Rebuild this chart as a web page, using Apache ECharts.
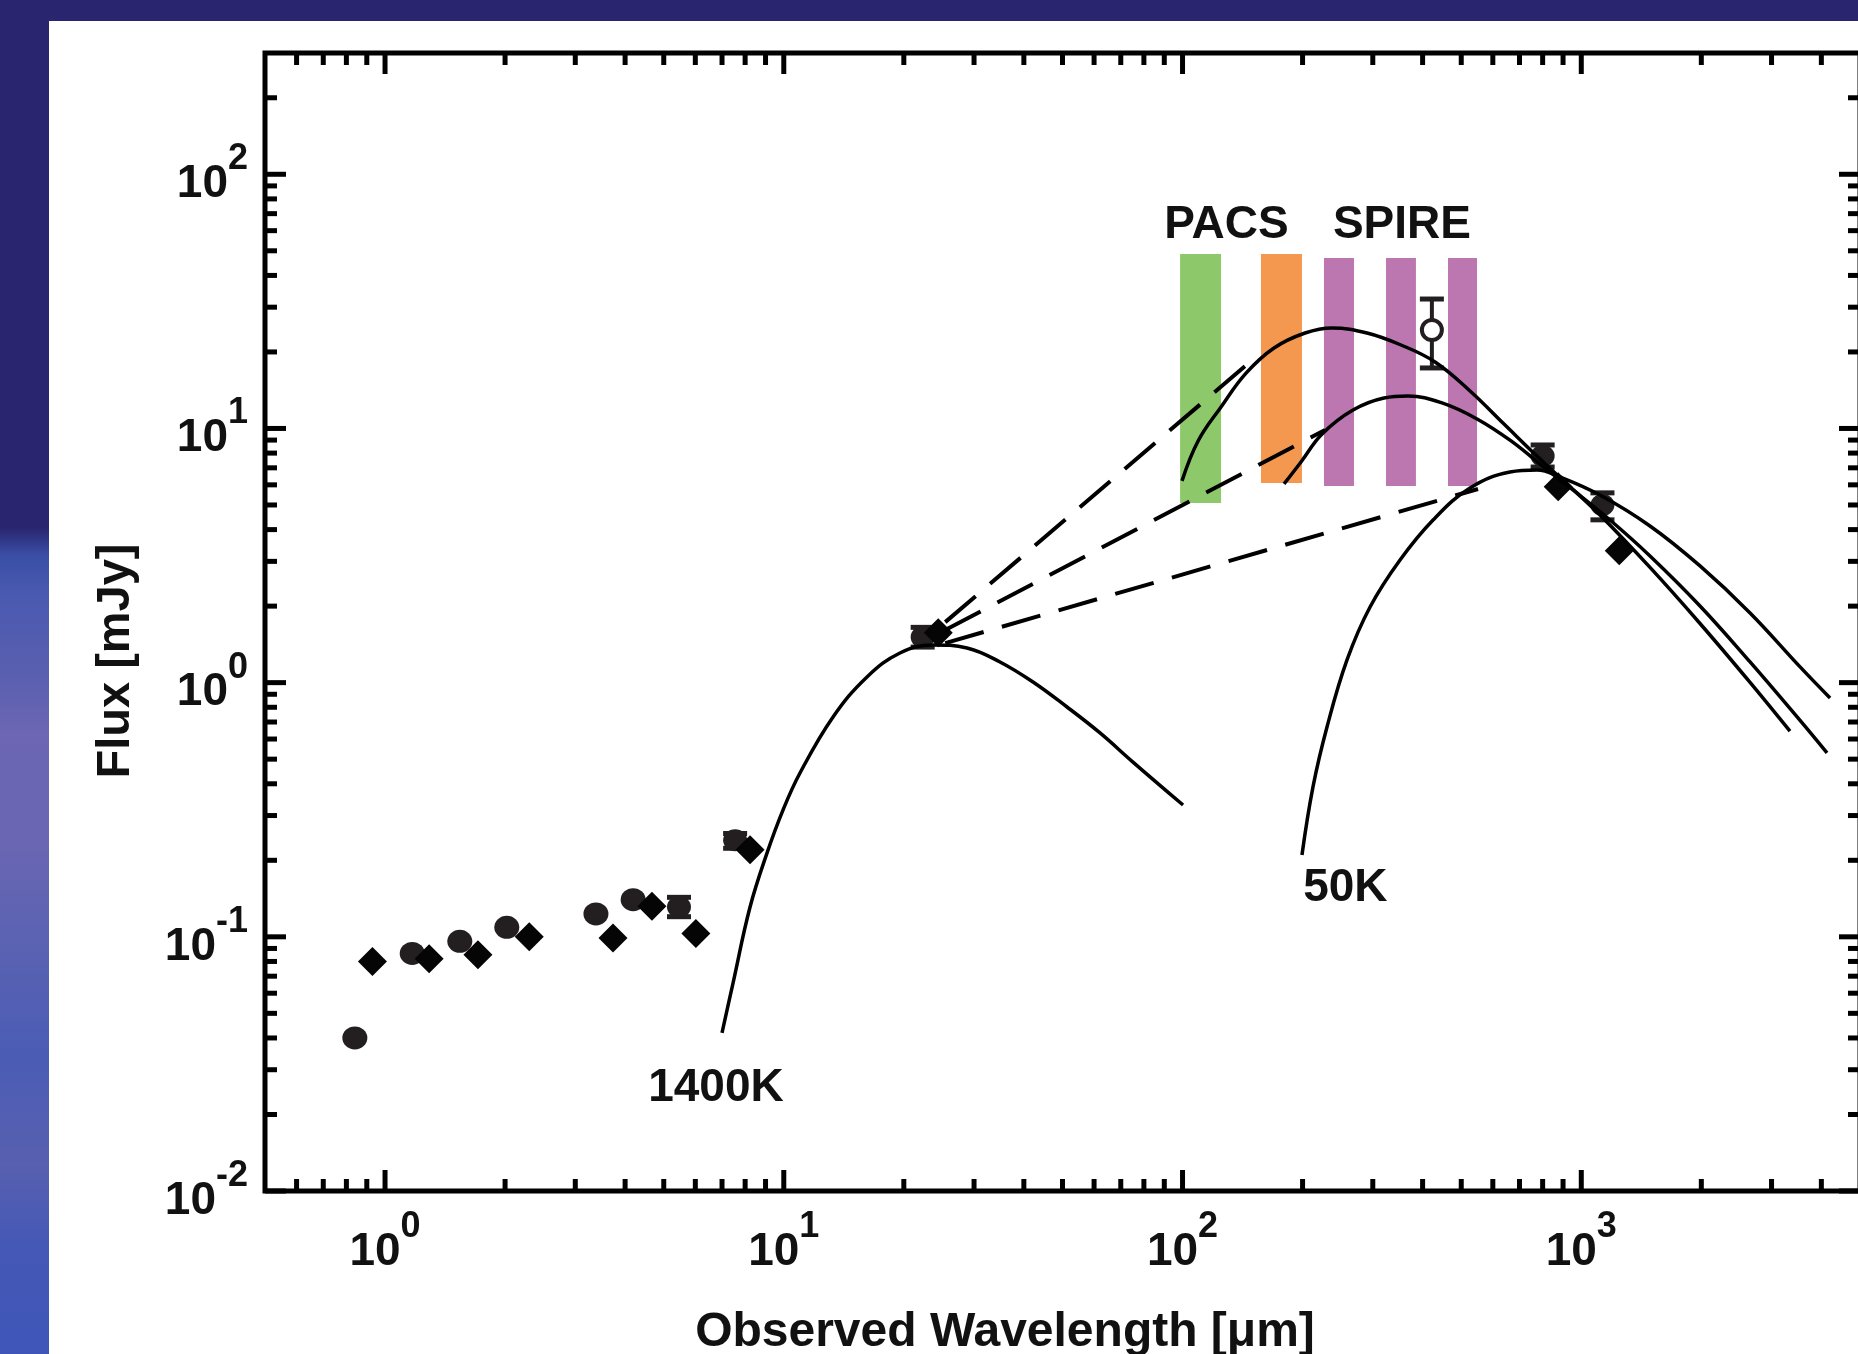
<!DOCTYPE html>
<html>
<head>
<meta charset="utf-8">
<script src="https://cdn.jsdelivr.net/npm/echarts@6/dist/echarts.min.js"></script>
<style>
html, body { margin: 0; padding: 0; width: 1858px; height: 1354px; overflow: hidden; background: #29266f; }
#strip { position: absolute; left: 0; top: 0; width: 49px; height: 1354px;
  background: linear-gradient(to bottom, #29266f 0%, #29266f 39%, #3a4ea6 41%, #4a5ab0 44%, #5a5fb0 50%, #6c66b4 54%, #6a66b3 62%, #5a62b2 70%, #4b5cb5 78%, #5860b0 86%, #4558b6 92%, #3f56b8 100%); }
#panel { position: absolute; left: 49px; top: 21px; width: 1809px; height: 1333px; background: #ffffff; }
#chart { position: absolute; left: 0; top: 0; width: 1858px; height: 1354px; }
</style>
</head>
<body>
<div id="strip"></div>
<div id="panel"></div>
<div id="chart"></div>
<script>
// ---------------- data ----------------
const xMajorTicks = [1, 10, 100, 1000];
const xMinorTicks = [0.6, 0.7, 0.8, 0.9, 2, 3, 4, 5, 6, 7, 8, 9, 20, 30, 40, 50, 60, 70, 80, 90,
  200, 300, 400, 500, 600, 700, 800, 900, 2000, 3000, 4000];
const yMajorTicks = [0.01, 0.1, 1, 10, 100];
const yMinorTicks = [0.02, 0.03, 0.04, 0.05, 0.06, 0.07, 0.08, 0.09, 0.2, 0.3, 0.4, 0.5, 0.6, 0.7, 0.8, 0.9,
  2, 3, 4, 5, 6, 7, 8, 9, 20, 30, 40, 50, 60, 70, 80, 90, 200];

// photometry: filled circles
const circlePoints = [[0.84, 0.040], [1.17, 0.086], [1.54, 0.096], [2.02, 0.109], [3.38, 0.123], [4.19, 0.140]];
// photometry: diamonds
const diamondPoints = [[0.93, 0.080], [1.29, 0.082], [1.71, 0.085], [2.30, 0.100], [3.73, 0.099], [4.67, 0.132],
  [6.02, 0.103], [8.23, 0.22], [24.4, 1.57], [875, 5.9], [1245, 3.3]];
// points with error bars: [wavelength, flux, low, high]
const errorPoints = [[5.46, 0.131, 0.120, 0.143], [7.55, 0.24, 0.223, 0.255], [22.3, 1.51, 1.38, 1.65],
  [800, 7.79, 7.05, 8.61], [1130, 5.0, 4.37, 5.58]];
// open circle with error bar
const openPoint = [[422, 24.4, 17.3, 32.3]];

// model curves
const curve1400K = [[7.00, 0.0419], [7.46, 0.0658], [8.23, 0.131], [9.08, 0.214], [9.96, 0.316], [10.98, 0.441],
  [13.29, 0.733], [16.17, 1.053], [19.56, 1.308], [23.67, 1.407], [28.81, 1.369], [34.85, 1.206], [42.17, 1.006],
  [51.32, 0.802], [62.09, 0.634], [75.1, 0.487], [100.3, 0.330]];
const curve50K = [[199.3, 0.210], [212.4, 0.389], [230.3, 0.669], [258.5, 1.228], [295.3, 1.985], [351.1, 3.038],
  [424.9, 4.365], [526.0, 5.834], [662.6, 6.743], [774.5, 6.867], [884.5, 6.445], [1114, 5.473], [1487, 4.134],
  [1985, 2.878], [2650, 1.880], [3537, 1.153], [4206, 0.870]];
const curveHotA = [[99.7, 6.22], [109.4, 8.93], [124.9, 12.15], [144.3, 16.5], [169.6, 20.73], [202.9, 23.74],
  [237.1, 24.85], [290.2, 23.74], [353.1, 21.30], [429.8, 18.26], [526.0, 14.04], [640.0, 10.41], [783.4, 7.65],
  [915.6, 6.10], [1114, 4.566], [1487, 2.840], [1985, 1.709], [2650, 1.002], [3337, 0.644]];
const curveHotB = [[179.7, 6.05], [198.2, 7.38], [223.8, 9.51], [267.6, 11.82], [320.1, 13.18], [367.7, 13.42],
  [447.4, 12.60], [547.7, 10.90], [666.5, 8.93], [815.6, 6.93], [953.4, 5.728], [1180, 4.365], [1487, 3.151],
  [1985, 2.003], [2650, 1.206], [3537, 0.710], [4133, 0.529]];
const dashUpper = [[25.4, 1.73], [147.6, 18.26]];
const dashMiddle = [[25.4, 1.61], [227.7, 9.86]];
const dashLower = [[25.4, 1.43], [550.8, 5.78]];

// PACS / SPIRE bands
const bandLow = [98.6, 157.3, 226.3, 323.8, 463.2];
const bandHigh = [124.9, 199.3, 269.2, 384.9, 547.7];
const bandBottom = [5.09, 6.10, 5.94, 5.94, 5.94];
const bandTop = [48.6, 48.6, 46.8, 46.8, 46.8];

// annotations
const annotations = [
  { name: '1400K', value: [6.76, 0.0254] },
  { name: '50K', value: [256, 0.155] },
  { name: 'PACS', value: [128.9, 62.9] },
  { name: 'SPIRE', value: [355, 62.9] }
];

// ---------------- styles ----------------
const INK = '#111111';
const FONT = "'Liberation Sans', Arial, Helvetica, sans-serif";
const NARROW = "'Liberation Sans Narrow', 'Arial Narrow', 'Liberation Sans', sans-serif";
const bandColors = ['rgba(103,182,56,0.75)', 'rgba(240,117,20,0.75)', 'rgba(166,74,151,0.75)',
  'rgba(166,74,151,0.75)', 'rgba(166,74,151,0.75)'];
const MAJOR_LEN = 21, MINOR_LEN = 12, TICK_W = 5;

const XMIN = 0.5, XMAX = 5000, YMIN = 0.01, YMAX = 300;

function isPow10(v) { const l = Math.log10(v); return Math.abs(l - Math.round(l)) < 1e-6; }
function powLabel(v) {
  if (!isPow10(v)) return '';
  const e = Math.round(Math.log10(v));
  return '{m|10}{s|' + e + '}';
}
const richLabel = {
  m: { fontSize: 46, fontWeight: 'bold', fontFamily: NARROW, color: INK, lineHeight: 66, verticalAlign: 'bottom' },
  s: { fontSize: 36, fontWeight: 'bold', fontFamily: NARROW, color: INK, lineHeight: 36, verticalAlign: 'top' }
};

const xTickData = xMajorTicks.map(v => [v, YMIN, 1]).concat(xMinorTicks.map(v => [v, YMIN, 0]));
const yTickData = yMajorTicks.map(v => [XMIN, v, 1]).concat(yMinorTicks.map(v => [XMIN, v, 0]));

function tickStyle() { return { stroke: '#000', lineWidth: TICK_W }; }

function renderXTick(params, api) {
  const cs = params.coordSys;
  const p = api.coord([api.value(0), api.value(1)]);
  const len = api.value(2) ? MAJOR_LEN : MINOR_LEN;
  const top = cs.y, bottom = cs.y + cs.height;
  return { type: 'group', children: [
    { type: 'line', shape: { x1: p[0], y1: bottom, x2: p[0], y2: bottom - len }, style: tickStyle() },
    { type: 'line', shape: { x1: p[0], y1: top, x2: p[0], y2: top + len }, style: tickStyle() }
  ] };
}
function renderYTick(params, api) {
  const cs = params.coordSys;
  const p = api.coord([api.value(0), api.value(1)]);
  const len = api.value(2) ? MAJOR_LEN : MINOR_LEN;
  const left = cs.x, right = cs.x + cs.width;
  return { type: 'group', children: [
    { type: 'line', shape: { x1: left, y1: p[1], x2: left + len, y2: p[1] }, style: tickStyle() },
    { type: 'line', shape: { x1: right, y1: p[1], x2: right - len, y2: p[1] }, style: tickStyle() }
  ] };
}
function renderBand(params, api) {
  const p0 = api.coord([api.value(0), api.value(3)]);
  const p1 = api.coord([api.value(1), api.value(2)]);
  return { type: 'rect', shape: { x: p0[0], y: p0[1], width: p1[0] - p0[0], height: p1[1] - p0[1] },
    style: { fill: bandColors[params.dataIndex] } };
}
function renderError(params, api) {
  const x = api.value(0);
  const lo = api.coord([x, api.value(2)]);
  const hi = api.coord([x, api.value(3)]);
  const w = 12;
  const st = { stroke: '#231f20', lineWidth: 5 };
  return { type: 'group', children: [
    { type: 'line', shape: { x1: lo[0], y1: lo[1], x2: hi[0], y2: hi[1] }, style: { stroke: '#231f20', lineWidth: 4 } },
    { type: 'line', shape: { x1: lo[0] - w, y1: lo[1], x2: lo[0] + w, y2: lo[1] }, style: st },
    { type: 'line', shape: { x1: hi[0] - w, y1: hi[1], x2: hi[0] + w, y2: hi[1] }, style: st }
  ] };
}

function solid(data) {
  return { type: 'line', data: data, symbol: 'none', smooth: 0.4, silent: true,
    lineStyle: { color: '#000', width: 3.5 } };
}
function dashed(data) {
  return { type: 'line', data: data, symbol: 'none', silent: true,
    lineStyle: { color: '#000', width: 4, type: [40, 19] } };
}

const chart = echarts.init(document.getElementById('chart'), null, { renderer: 'canvas' });
chart.setOption({
  animation: false,
  backgroundColor: 'transparent',
  grid: { left: 265, top: 53, right: -2, bottom: 163, show: true, borderColor: '#000', borderWidth: 5,
    backgroundColor: 'transparent', containLabel: false, outerBoundsMode: 'none' },
  xAxis: {
    type: 'log', logBase: 10, min: XMIN, max: XMAX,
    name: 'Observed Wavelength [\u03bcm]', nameLocation: 'middle', nameGap: 118,
    nameTextStyle: { fontSize: 48, fontWeight: 'bold', fontFamily: FONT, color: INK, padding: [0, 115, 0, 0] },
    axisLine: { show: false }, axisTick: { show: false }, splitLine: { show: false }, minorTick: { show: false },
    axisLabel: { formatter: powLabel, rich: richLabel, margin: 18, showMinLabel: true, showMaxLabel: true, customValues: xMajorTicks }
  },
  yAxis: {
    type: 'log', logBase: 10, min: YMIN, max: YMAX,
    name: 'Flux [mJy]', nameLocation: 'middle', nameGap: 125,
    nameTextStyle: { fontSize: 47, fontWeight: 'bold', fontFamily: FONT, color: INK, padding: [0, 78, 0, 0] },
    axisLine: { show: false }, axisTick: { show: false }, splitLine: { show: false }, minorTick: { show: false },
    axisLabel: { formatter: powLabel, rich: richLabel, margin: 17, customValues: yMajorTicks }
  },
  series: [
    { type: 'custom', name: 'xticks', data: xTickData, renderItem: renderXTick, clip: false, silent: true, encode: { x: 0, y: 1 } },
    { type: 'custom', name: 'yticks', data: yTickData, renderItem: renderYTick, clip: false, silent: true, encode: { x: 0, y: 1 } },
    dashed(dashUpper), dashed(dashMiddle), dashed(dashLower),
    solid(curve1400K), solid(curve50K), solid(curveHotA), solid(curveHotB),
    { type: 'custom', name: 'bands', data: bandLow.map((v, i) => [v, bandHigh[i], bandBottom[i], bandTop[i]]),
      renderItem: renderBand, silent: true, encode: { x: [0, 1], y: [2, 3] } },
    { type: 'custom', name: 'errors', data: errorPoints.concat(openPoint), renderItem: renderError, silent: true,
      encode: { x: 0, y: [1, 2, 3] } },
    { type: 'scatter', data: circlePoints, symbol: 'circle', symbolSize: [25, 23], silent: true,
      itemStyle: { color: '#231f20', opacity: 1 } },
    { type: 'scatter', data: errorPoints.map(p => [p[0], p[1]]), symbol: 'circle', symbolSize: [24, 22], silent: true,
      itemStyle: { color: '#231f20', opacity: 1 } },
    { type: 'scatter', data: diamondPoints, symbol: 'diamond', symbolSize: [29, 29], silent: true,
      itemStyle: { color: '#050505', opacity: 1 } },
    { type: 'scatter', data: openPoint.map(p => [p[0], p[1]]), symbol: 'circle', symbolSize: 20, silent: true,
      itemStyle: { color: '#ffffff', borderColor: '#231f20', borderWidth: 4, opacity: 1 } },
    { type: 'scatter', data: annotations, symbolSize: 0, silent: true, itemStyle: { opacity: 1 },
      label: { show: true, position: 'inside', formatter: p => p.name, fontSize: 46, fontWeight: 'bold',
        fontFamily: FONT, color: INK } }
  ]
});
</script>
</body>
</html>
